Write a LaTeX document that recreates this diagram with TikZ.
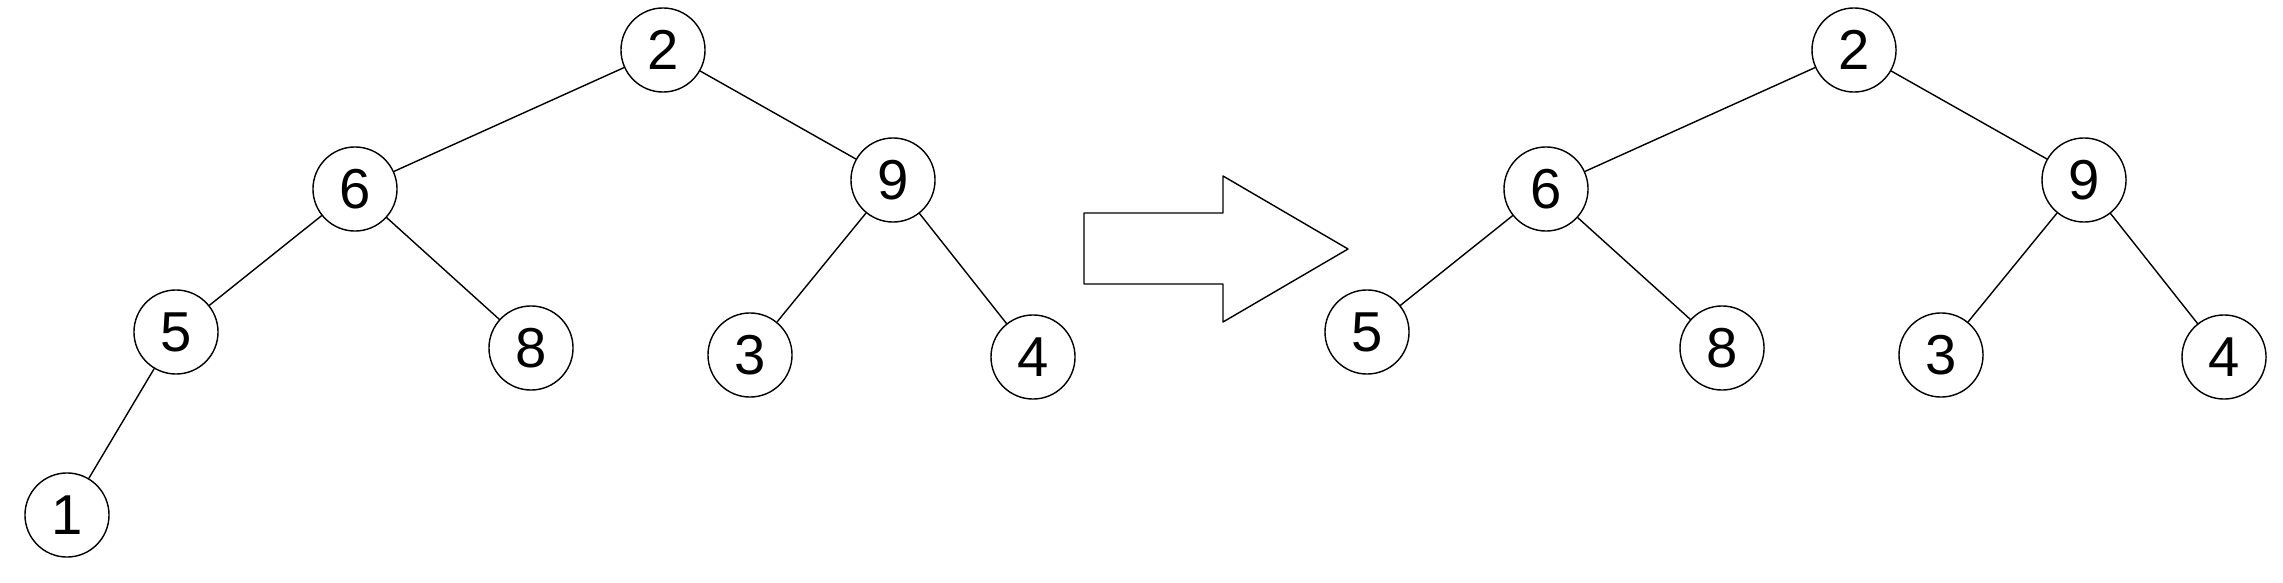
\documentclass[tikz,border=0pt]{standalone}
\usepackage{fontspec}
\setmainfont{Liberation Sans}

\begin{document}
\begin{tikzpicture}[x=0.01cm, y=-0.01cm, line join=round, line cap=round, font=\fontsize{16}{19}\selectfont,
	vertex/.style={circle, draw, fill=white, inner sep=0pt, minimum size=0.84cm}]
	\useasboundingbox (0,0) rectangle (2283,582);
	\foreach \t/\dx in {A/0, B/1191}{
		\node[vertex] (\t2) at (\dx+663,50) {2};
		\node[vertex] (\t6) at (\dx+355,189) {6};
		\node[vertex] (\t9) at (\dx+893,180) {9};
		\node[vertex] (\t5) at (\dx+176,332) {5};
		\node[vertex] (\t8) at (\dx+531,348) {8};
		\node[vertex] (\t3) at (\dx+750,355) {3};
		\node[vertex] (\t4) at (\dx+1033,357) {4};
		\draw (\t2) -- (\t6) (\t2) -- (\t9) (\t6) -- (\t5) (\t6) -- (\t8) (\t9) -- (\t3) (\t9) -- (\t4);
	}
	\node[vertex] (A1) at (67,515) {1};
	\draw (A5) -- (A1);
	% arrow between the trees
	\draw (1084,213) -- (1223,213) -- (1223,176) -- (1348,249) -- (1223,322) -- (1223,284) -- (1084,284) -- cycle;
\end{tikzpicture}
\end{document}
